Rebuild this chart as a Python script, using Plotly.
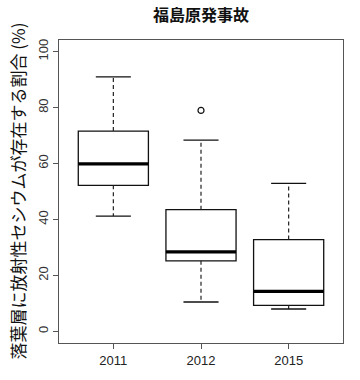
import plotly.graph_objects as go

years = ["2011", "2012", "2015"]
positions = [1, 2, 3]
q1 = [52.2, 25.2, 9.3]
median = [59.9, 28.4, 14.3]
q3 = [71.6, 43.5, 32.8]
lower = [41.2, 10.5, 8.0]
upper = [91.0, 68.4, 52.9]
outlier_x = [2]
outlier_y = [79.0]
y_ticks = [0, 20, 40, 60, 80, 100]

title = "福島原発事故"
ylabel = "落葉層に放射性セシウムが存在する割合 (%)"

BOX_W = 0.8
CAP_HALF = 0.2
MED_HALF = 0.4

fig = go.Figure()

# boxes
fig.add_trace(go.Box(
    x=positions, q1=q1, median=median, q3=q3,
    lowerfence=q1, upperfence=q3,
    width=BOX_W, fillcolor="white",
    line=dict(color="#111111", width=1.3),
    whiskerwidth=0, boxpoints=False, showlegend=False, hoverinfo="skip",
))

# dashed whiskers and caps
for p, a, b, lo, hi in zip(positions, q1, q3, lower, upper):
    fig.add_trace(go.Scatter(x=[p, p, None, p, p], y=[b, hi, None, a, lo],
                             mode="lines", line=dict(color="#222222", width=1.2, dash="4px,3px"),
                             showlegend=False, hoverinfo="skip"))
    fig.add_trace(go.Scatter(x=[p - CAP_HALF, p + CAP_HALF, None, p - CAP_HALF, p + CAP_HALF],
                             y=[hi, hi, None, lo, lo],
                             mode="lines", line=dict(color="#111111", width=1.3),
                             showlegend=False, hoverinfo="skip"))

# thick medians
for p, m in zip(positions, median):
    fig.add_trace(go.Scatter(x=[p - MED_HALF, p + MED_HALF], y=[m, m], mode="lines",
                             line=dict(color="#000000", width=3.2),
                             showlegend=False, hoverinfo="skip"))

# outliers
fig.add_trace(go.Scatter(x=outlier_x, y=outlier_y, mode="markers",
                         marker=dict(symbol="circle-open", size=6, color="#111111",
                                     line=dict(width=1.2)),
                         showlegend=False, hoverinfo="skip"))

axis_color = "#555555"
fig.update_layout(
    width=360, height=380,
    margin=dict(l=59, r=17, t=40, b=31),
    paper_bgcolor="white", plot_bgcolor="white",
    font=dict(family="Liberation Sans, Arial, sans-serif", color="#222222", size=13),
    title=dict(text="<b>" + title + "</b>", x=(59 + 343) / 2 / 360, xanchor="center",
               y=1 - 15 / 380, yanchor="middle", yref="container",
               font=dict(family="Noto Sans CJK JP", size=16, color="#111111")),
    xaxis=dict(range=[0.38, 3.62], tickmode="array", tickvals=positions, ticktext=years,
               showline=True, mirror=True, linecolor=axis_color, linewidth=1.3,
               ticks="outside", ticklen=5, tickcolor=axis_color, tickwidth=1.2,
               showgrid=False, zeroline=False, tickfont=dict(size=13, color="#222222")),
    yaxis=dict(range=[-4.16, 104.16], tickmode="array", tickvals=y_ticks,
               showline=True, mirror=True, linecolor=axis_color, linewidth=1.3,
               ticks="outside", ticklen=5, tickcolor=axis_color, tickwidth=1.2,
               showgrid=False, zeroline=False, tickangle=-90,
               tickfont=dict(size=13, color="#333333")),
    annotations=[dict(text=ylabel, xref="paper", yref="paper",
                      x=(17 - 59) / 284, y=0.5, xanchor="center", yanchor="middle",
                      textangle=-90, showarrow=False,
                      font=dict(family="Noto Sans CJK JP", size=17, color="#111111"))],
)

fig.write_html("out.html")
